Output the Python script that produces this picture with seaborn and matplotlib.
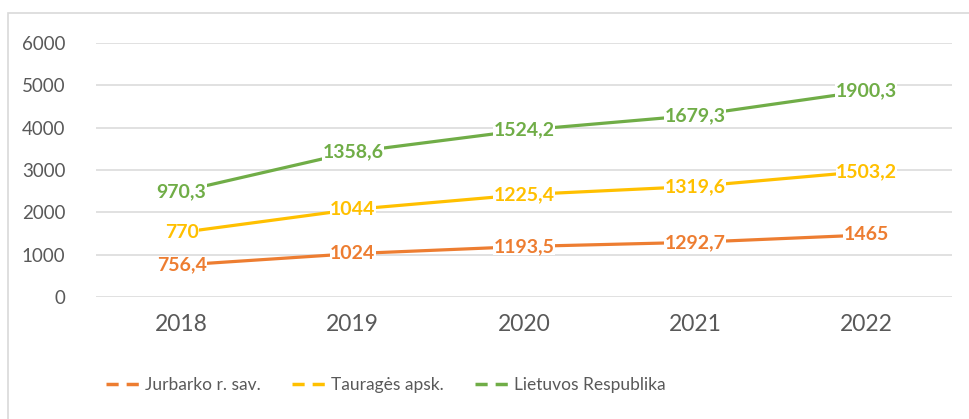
import numpy as np
import pandas as pd
import matplotlib.pyplot as plt
import seaborn as sns
from matplotlib.lines import Line2D
from matplotlib.patches import Rectangle

years = ['2018', '2019', '2020', '2021', '2022']
series = ['Jurbarko r. sav.', 'Tauragės apsk.', 'Lietuvos Respublika']
jurbarko = [756.4, 1024, 1193.5, 1292.7, 1465]
taurages = [770, 1044, 1225.4, 1319.6, 1503.2]
lietuva = [970.3, 1358.6, 1524.2, 1679.3, 1900.3]
colors = ['#ED7D31', '#FFC000', '#70AD47']

# excel "stacked line": each line sits on top of the previous one
vals = np.array([jurbarko, taurages, lietuva])
stacked = np.cumsum(vals, axis=0)

rows = []
for i, name in enumerate(series):
    for j, y in enumerate(years):
        rows.append({'year': j, 'series': name, 'value': stacked[i, j], 'raw': vals[i, j]})
df = pd.DataFrame(rows)

sns.set_style('white')
plt.rcParams['font.family'] = ['Lato', 'DejaVu Sans']

fig = plt.figure(figsize=(9.69, 4.19), dpi=100)
W, H = 969, 419
ax = fig.add_axes([96 / W, 1 - 297 / H, 856 / W, 254 / H])

sns.lineplot(data=df, x='year', y='value', hue='series', palette=colors,
             linewidth=2.3, legend=False, ax=ax, zorder=3)

def fmt(v):
    return f'{v:g}'.replace('.', ',')

for _, r in df.iterrows():
    c = colors[series.index(r['series'])]
    ax.text(r['year'], r['value'], fmt(r['raw']), color=c, fontsize=14,
            fontweight='bold', ha='center', va='center', zorder=4,
            bbox=dict(boxstyle='square,pad=0.02', fc='white', ec='none'))

ax.set_xlim(-0.5, 4.5)
ax.set_ylim(0, 6000)
ax.set_yticks(range(0, 6001, 1000))
ax.set_xticks(range(5))
ax.set_xticklabels(years)
ax.grid(axis='y', color='#D9D9D9', linewidth=1.1)
ax.set_axisbelow(True)
for s in ax.spines.values():
    s.set_visible(False)
ax.tick_params(axis='y', length=0, pad=22, labelsize=13.5, labelcolor='#595959')
ax.tick_params(axis='x', length=0, pad=12, labelsize=16.5, labelcolor='#595959')
ax.set_xlabel('')
ax.set_ylabel('')

handles = [Line2D([], [], color=c, linewidth=2.5, dashes=(3.5, 2.3)) for c in colors]
fig.legend(handles, series, loc='center left', bbox_to_anchor=(90 / W, 1 - 385 / H),
           ncol=3, frameon=False, labelcolor='#595959',
           handlelength=2.1, handletextpad=0.15, columnspacing=1.8,
           prop={'size': 12.5})

# chart border
fig.patches.append(Rectangle((8 / W, -0.1), 1.2, 1.1 - 13 / H, transform=fig.transFigure,
                             fill=False, ec='#D9D9D9', lw=1.2))

fig.savefig('out.png', dpi=100)
